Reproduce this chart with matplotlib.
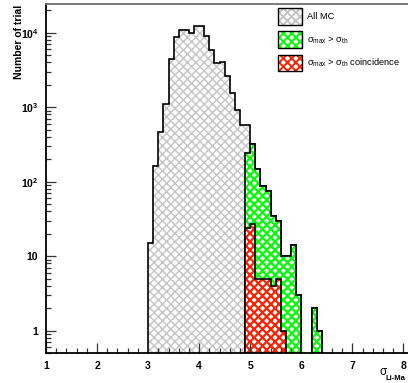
import numpy as np
import matplotlib
matplotlib.use("Agg")
import matplotlib.pyplot as plt
from matplotlib.patches import Patch
from matplotlib.ticker import FixedLocator, MultipleLocator, LogLocator, NullFormatter

plt.rcParams['font.family'] = ['Liberation Sans', 'DejaVu Sans']
plt.rcParams['mathtext.fontset'] = 'custom'
plt.rcParams['mathtext.rm'] = 'Liberation Sans'
plt.rcParams['mathtext.bf'] = 'Liberation Sans:bold'
plt.rcParams['mathtext.it'] = 'Liberation Sans:italic'
plt.rcParams['hatch.linewidth'] = 1.4

# histogram data, bins of 0.1 in sigma_Li-Ma
bin_width = 0.1
all_mc_start = 3.0
all_mc = [15, 162, 470, 1090, 4400, 8800, 10900, 10900, 9800, 12300,
          12300, 8900, 5800, 3900, 4000, 2620, 1540, 920, 580, 580,
          321, 147, 88, 76, 35, 30, 10, 10, 14, 3, 0, 0, 2, 1]
above_th_start = 4.9
above_th = [240, 321, 147, 88, 76, 35, 30, 10, 10, 14, 3, 0, 0, 2, 1]
coinc_start = 4.9
coinc = [24, 27, 5, 5, 5, 4, 5, 1]

labels = ['All MC', 'σ$_{\\rm max}$ > σ$_{\\rm th}$', 'σ$_{\\rm max}$ > σ$_{\\rm th}$ coincidence']
colors = ['#c4c4c4', '#00ff00', '#ff2200']
hatch_lw = [1.0, 1.6, 1.6]

floor = 1e-3

fig = plt.figure(figsize=(4.08, 3.83), dpi=100)
ax = fig.add_axes([46 / 408, 30 / 383, 362 / 408, 349 / 383])


def hatch_patch(p, lw):
    if hasattr(p, 'set_hatch_linewidth'):
        p.set_hatch_linewidth(lw)
    return p


def draw_hist(start, counts, color, lw):
    counts = np.array(counts, dtype=float)
    edges = np.round(start + bin_width * np.arange(len(counts) + 1), 3)
    vals = np.where(counts > 0, counts, floor)
    with plt.rc_context({'hatch.linewidth': lw}):
        p = ax.stairs(vals, edges, baseline=floor, fill=True, facecolor='white',
                      edgecolor=color, hatch='xxxx', linewidth=0)
        hatch_patch(p, lw)
    ax.stairs(vals, edges, baseline=floor, color='black', linewidth=1.2)


draw_hist(all_mc_start, all_mc, colors[0], hatch_lw[0])
draw_hist(above_th_start, above_th, colors[1], hatch_lw[1])
draw_hist(coinc_start, coinc, colors[2], hatch_lw[2])

ax.set_yscale('log')
ax.set_xlim(1, 8.09)
ax.set_ylim(0.5, 24270)

ax.xaxis.set_major_locator(FixedLocator([1, 2, 3, 4, 5, 6, 7, 8]))
ax.xaxis.set_minor_locator(MultipleLocator(0.2))
ax.set_xticklabels(['1', '2', '3', '4', '5', '6', '7', '8'], fontweight='bold', fontsize=7.5)
ax.yaxis.set_major_locator(FixedLocator([1, 10, 100, 1000, 10000]))
ax.yaxis.set_minor_locator(LogLocator(base=10, subs=np.arange(2, 10)))
ax.yaxis.set_minor_formatter(NullFormatter())
ax.set_yticklabels(['1', '10', r'$\mathbf{10^{2}}$', r'$\mathbf{10^{3}}$', r'$\mathbf{10^{4}}$'],
                   fontweight='bold', fontsize=7.5)

ax.tick_params(which='both', direction='in', color='#333333', width=0.9, top=False, right=False)
ax.tick_params(which='major', length=7.5)
ax.tick_params(which='minor', length=3.8)
ax.tick_params(axis='x', pad=6)
ax.tick_params(axis='y', pad=5.5)

ax.spines['right'].set_visible(False)
ax.spines['top'].set_color('#707070')
ax.spines['top'].set_linewidth(1.3)
ax.spines['left'].set_linewidth(1.3)
ax.spines['bottom'].set_linewidth(1.3)

# axis titles, ROOT style
fig.text(19 / 408, 1 - 5 / 383, 'Number of trial', rotation=90, ha='center', va='top',
         fontsize=7.5, fontweight='bold')
fig.text(379 / 408, 1 - 372 / 383, 'σ', ha='left', va='center', fontsize=8.5)
fig.text(386 / 408, 1 - 378 / 383, 'Li-Ma', ha='left', va='center', fontsize=5.5, fontweight='bold')

handles = []
for c, lw in zip(colors, hatch_lw):
    with plt.rc_context({'hatch.linewidth': lw}):
        hp = hatch_patch(Patch(facecolor='white', edgecolor=c, hatch='xxxx', linewidth=0), lw)
    handles.append((hp, Patch(facecolor='none', edgecolor='black', linewidth=1.0)))
fig.legend(handles, labels, loc='upper left', bbox_to_anchor=(277.7 / 408, 1 - 8.3 / 383),
           bbox_transform=fig.transFigure, frameon=False, fontsize=6.7,
           handlelength=2.6, handleheight=2.35, labelspacing=0.72, handletextpad=0.5,
           borderpad=0, borderaxespad=0)

fig.savefig('out.png', dpi=100)
